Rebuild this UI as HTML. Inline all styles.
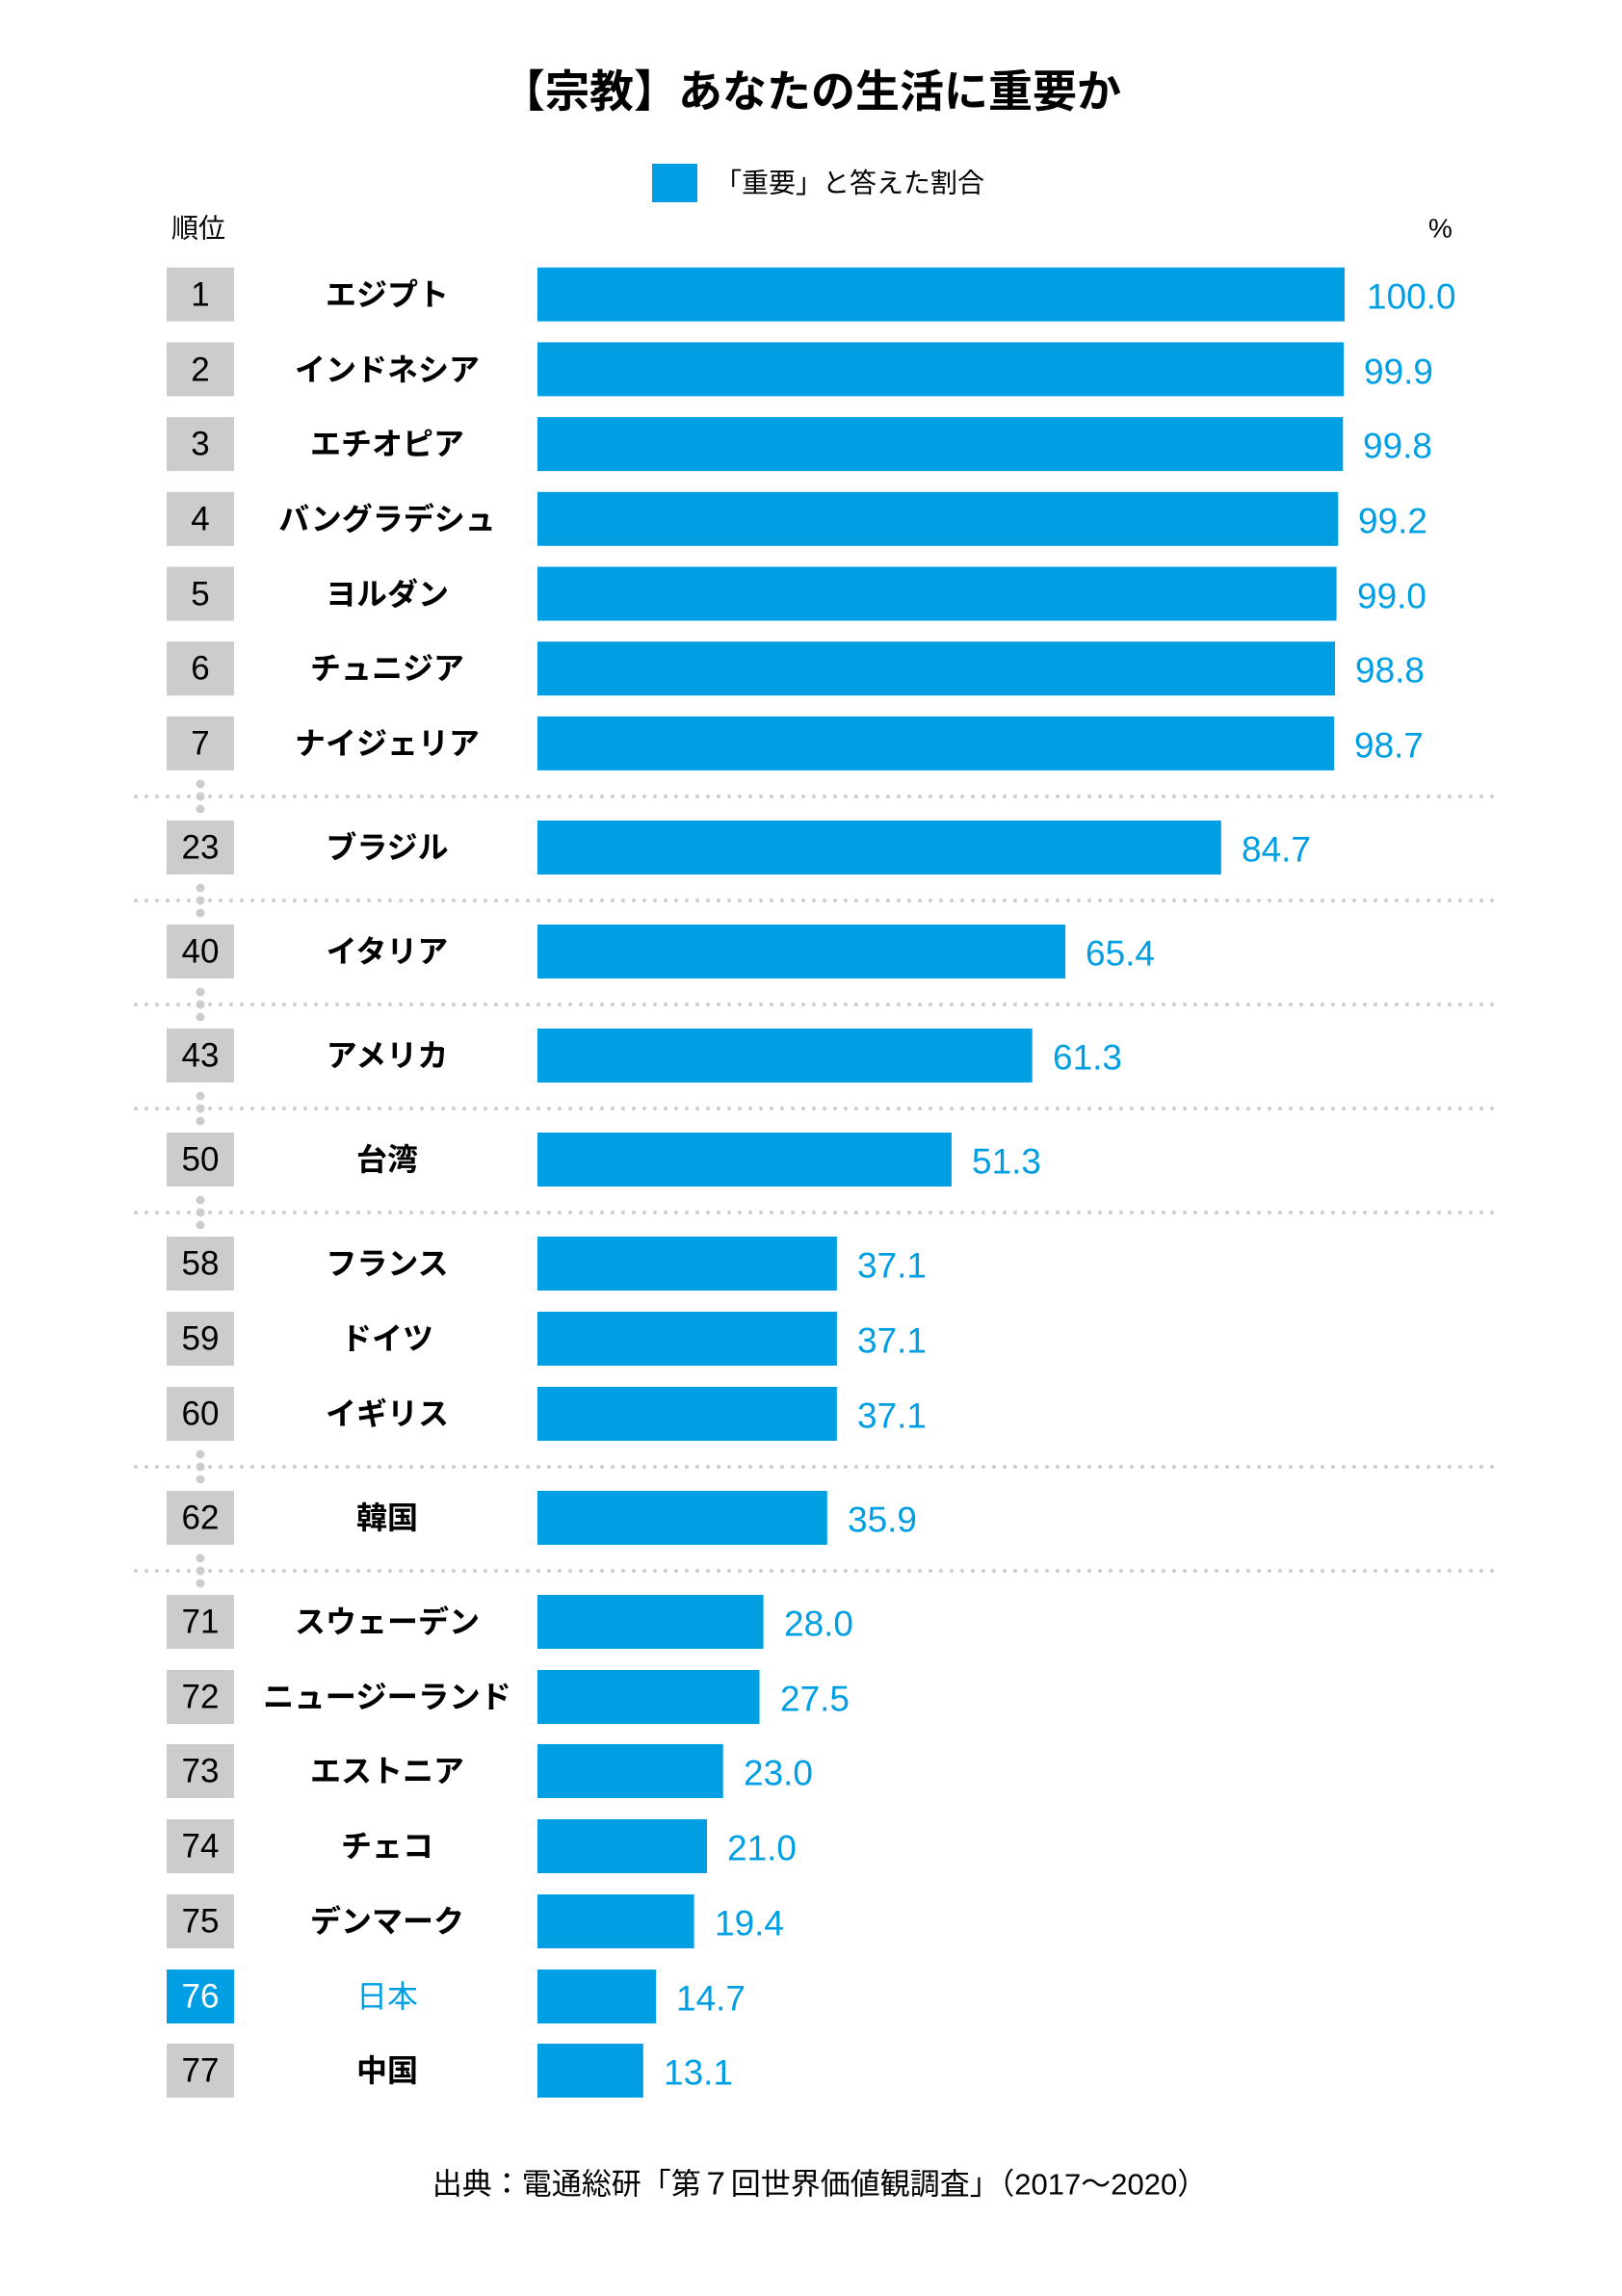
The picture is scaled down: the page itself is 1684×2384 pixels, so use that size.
<!DOCTYPE html>
<html><head><meta charset="utf-8"><style>
html,body{margin:0;padding:0;background:#fff;}
svg{display:block;}
.t{font-family:"Liberation Sans","Noto Sans CJK JP",sans-serif;}
.rk{font-size:35px;fill:#000;text-anchor:middle;dominant-baseline:central;}
.nm{font-size:32px;font-weight:bold;fill:#000;text-anchor:middle;dominant-baseline:central;}
.vl{font-size:37px;fill:#009FE4;dominant-baseline:central;}
</style></head><body>
<svg width="1684" height="2384" viewBox="0 0 1684 2384" xmlns="http://www.w3.org/2000/svg" class="t">
<rect width="1684" height="2384" fill="#fff"/>
<text x="842" y="95" font-size="46" font-weight="bold" text-anchor="middle" dominant-baseline="central" fill="#000">【宗教】あなたの生活に重要か</text>
<rect x="677" y="170" width="47" height="40" fill="#009FE4"/>
<text x="742" y="190" font-size="28" dominant-baseline="central" fill="#000">「重要」と答えた割合</text>
<text x="178" y="237" font-size="28" dominant-baseline="central" fill="#000">順位</text>
<text x="1483" y="237" font-size="28" dominant-baseline="central" fill="#000">%</text>

<g stroke="#cccccc" stroke-width="4" stroke-linecap="round" stroke-dasharray="0 11">
<line x1="141" y1="827" x2="1559" y2="827"/>
<line x1="141" y1="935" x2="1559" y2="935"/>
<line x1="141" y1="1043" x2="1559" y2="1043"/>
<line x1="141" y1="1151" x2="1559" y2="1151"/>
<line x1="141" y1="1259" x2="1559" y2="1259"/>
<line x1="141" y1="1523" x2="1559" y2="1523"/>
<line x1="141" y1="1631" x2="1559" y2="1631"/>
</g>
<g fill="#cccccc">
<circle cx="208" cy="814" r="4.5"/><circle cx="208" cy="827" r="4.5"/><circle cx="208" cy="840" r="4.5"/>
<circle cx="208" cy="922" r="4.5"/><circle cx="208" cy="935" r="4.5"/><circle cx="208" cy="948" r="4.5"/>
<circle cx="208" cy="1030" r="4.5"/><circle cx="208" cy="1043" r="4.5"/><circle cx="208" cy="1056" r="4.5"/>
<circle cx="208" cy="1138" r="4.5"/><circle cx="208" cy="1151" r="4.5"/><circle cx="208" cy="1164" r="4.5"/>
<circle cx="208" cy="1246" r="4.5"/><circle cx="208" cy="1259" r="4.5"/><circle cx="208" cy="1272" r="4.5"/>
<circle cx="208" cy="1510" r="4.5"/><circle cx="208" cy="1523" r="4.5"/><circle cx="208" cy="1536" r="4.5"/>
<circle cx="208" cy="1618" r="4.5"/><circle cx="208" cy="1631" r="4.5"/><circle cx="208" cy="1644" r="4.5"/>
</g>

<g fill="#cccccc">
<rect x="173" y="277.7" width="70" height="56"/>
<rect x="173" y="355.4" width="70" height="56"/>
<rect x="173" y="433.1" width="70" height="56"/>
<rect x="173" y="510.8" width="70" height="56"/>
<rect x="173" y="588.5" width="70" height="56"/>
<rect x="173" y="666.2" width="70" height="56"/>
<rect x="173" y="743.9" width="70" height="56"/>
<rect x="173" y="852" width="70" height="56"/>
<rect x="173" y="960" width="70" height="56"/>
<rect x="173" y="1068" width="70" height="56"/>
<rect x="173" y="1176" width="70" height="56"/>
<rect x="173" y="1284" width="70" height="56"/>
<rect x="173" y="1362" width="70" height="56"/>
<rect x="173" y="1440" width="70" height="56"/>
<rect x="173" y="1548" width="70" height="56"/>
<rect x="173" y="1656" width="70" height="56"/>
<rect x="173" y="1734" width="70" height="56"/>
<rect x="173" y="1811" width="70" height="56"/>
<rect x="173" y="1889" width="70" height="56"/>
<rect x="173" y="1967" width="70" height="56"/>
<rect x="173" y="2045" width="70" height="56" fill="#009FE4"/>
<rect x="173" y="2122" width="70" height="56"/>
</g>

<g fill="#009FE4">
<rect x="558" y="277.7" width="838" height="56"/>
<rect x="558" y="355.4" width="837.2" height="56"/>
<rect x="558" y="433.1" width="836.3" height="56"/>
<rect x="558" y="510.8" width="831.3" height="56"/>
<rect x="558" y="588.5" width="829.6" height="56"/>
<rect x="558" y="666.2" width="828" height="56"/>
<rect x="558" y="743.9" width="827.1" height="56"/>
<rect x="558" y="852" width="709.8" height="56"/>
<rect x="558" y="960" width="548.1" height="56"/>
<rect x="558" y="1068" width="513.7" height="56"/>
<rect x="558" y="1176" width="429.9" height="56"/>
<rect x="558" y="1284" width="310.9" height="56"/>
<rect x="558" y="1362" width="310.9" height="56"/>
<rect x="558" y="1440" width="310.9" height="56"/>
<rect x="558" y="1548" width="300.8" height="56"/>
<rect x="558" y="1656" width="234.6" height="56"/>
<rect x="558" y="1734" width="230.5" height="56"/>
<rect x="558" y="1811" width="192.7" height="56"/>
<rect x="558" y="1889" width="176" height="56"/>
<rect x="558" y="1967" width="162.6" height="56"/>
<rect x="558" y="2045" width="123.2" height="56"/>
<rect x="558" y="2122" width="109.8" height="56"/>
</g>

<text class="rk" x="208" y="306">1</text>
<text class="rk" x="208" y="384">2</text>
<text class="rk" x="208" y="461">3</text>
<text class="rk" x="208" y="539">4</text>
<text class="rk" x="208" y="617">5</text>
<text class="rk" x="208" y="694">6</text>
<text class="rk" x="208" y="772">7</text>
<text class="rk" x="208" y="880">23</text>
<text class="rk" x="208" y="988">40</text>
<text class="rk" x="208" y="1096">43</text>
<text class="rk" x="208" y="1204">50</text>
<text class="rk" x="208" y="1312">58</text>
<text class="rk" x="208" y="1390">59</text>
<text class="rk" x="208" y="1468">60</text>
<text class="rk" x="208" y="1576">62</text>
<text class="rk" x="208" y="1684">71</text>
<text class="rk" x="208" y="1762">72</text>
<text class="rk" x="208" y="1839">73</text>
<text class="rk" x="208" y="1917">74</text>
<text class="rk" x="208" y="1995">75</text>
<text class="rk" x="208" y="2073" style="fill:#fff">76</text>
<text class="rk" x="208" y="2150">77</text>

<text class="nm" x="402" y="306">エジプト</text>
<text class="nm" x="402" y="384">インドネシア</text>
<text class="nm" x="402" y="461">エチオピア</text>
<text class="nm" x="402" y="539">バングラデシュ</text>
<text class="nm" x="402" y="617">ヨルダン</text>
<text class="nm" x="402" y="694">チュニジア</text>
<text class="nm" x="402" y="772">ナイジェリア</text>
<text class="nm" x="402" y="880">ブラジル</text>
<text class="nm" x="402" y="988">イタリア</text>
<text class="nm" x="402" y="1096">アメリカ</text>
<text class="nm" x="402" y="1204">台湾</text>
<text class="nm" x="402" y="1312">フランス</text>
<text class="nm" x="402" y="1390">ドイツ</text>
<text class="nm" x="402" y="1468">イギリス</text>
<text class="nm" x="402" y="1576">韓国</text>
<text class="nm" x="402" y="1684">スウェーデン</text>
<text class="nm" x="402" y="1762" textLength="258" lengthAdjust="spacingAndGlyphs">ニュージーランド</text>
<text class="nm" x="402" y="1839">エストニア</text>
<text class="nm" x="402" y="1917">チェコ</text>
<text class="nm" x="402" y="1995">デンマーク</text>
<text class="nm" x="402" y="2073" style="fill:#009FE4;font-weight:normal">日本</text>
<text class="nm" x="402" y="2150">中国</text>

<text class="vl" x="1419" y="308">100.0</text>
<text class="vl" x="1416" y="386">99.9</text>
<text class="vl" x="1415" y="463">99.8</text>
<text class="vl" x="1410" y="541">99.2</text>
<text class="vl" x="1409" y="619">99.0</text>
<text class="vl" x="1407" y="696">98.8</text>
<text class="vl" x="1406" y="774">98.7</text>
<text class="vl" x="1289" y="882">84.7</text>
<text class="vl" x="1127" y="990">65.4</text>
<text class="vl" x="1093" y="1098">61.3</text>
<text class="vl" x="1009" y="1206">51.3</text>
<text class="vl" x="890" y="1314">37.1</text>
<text class="vl" x="890" y="1392">37.1</text>
<text class="vl" x="890" y="1470">37.1</text>
<text class="vl" x="880" y="1578">35.9</text>
<text class="vl" x="814" y="1686">28.0</text>
<text class="vl" x="810" y="1764">27.5</text>
<text class="vl" x="772" y="1841">23.0</text>
<text class="vl" x="755" y="1919">21.0</text>
<text class="vl" x="742" y="1997">19.4</text>
<text class="vl" x="702" y="2075">14.7</text>
<text class="vl" x="689" y="2152">13.1</text>

<text x="851" y="2268" font-size="31" text-anchor="middle" dominant-baseline="central" fill="#000">出典：電通総研「第７回世界価値観調査」（2017～2020）</text>
</svg>
</body></html>
